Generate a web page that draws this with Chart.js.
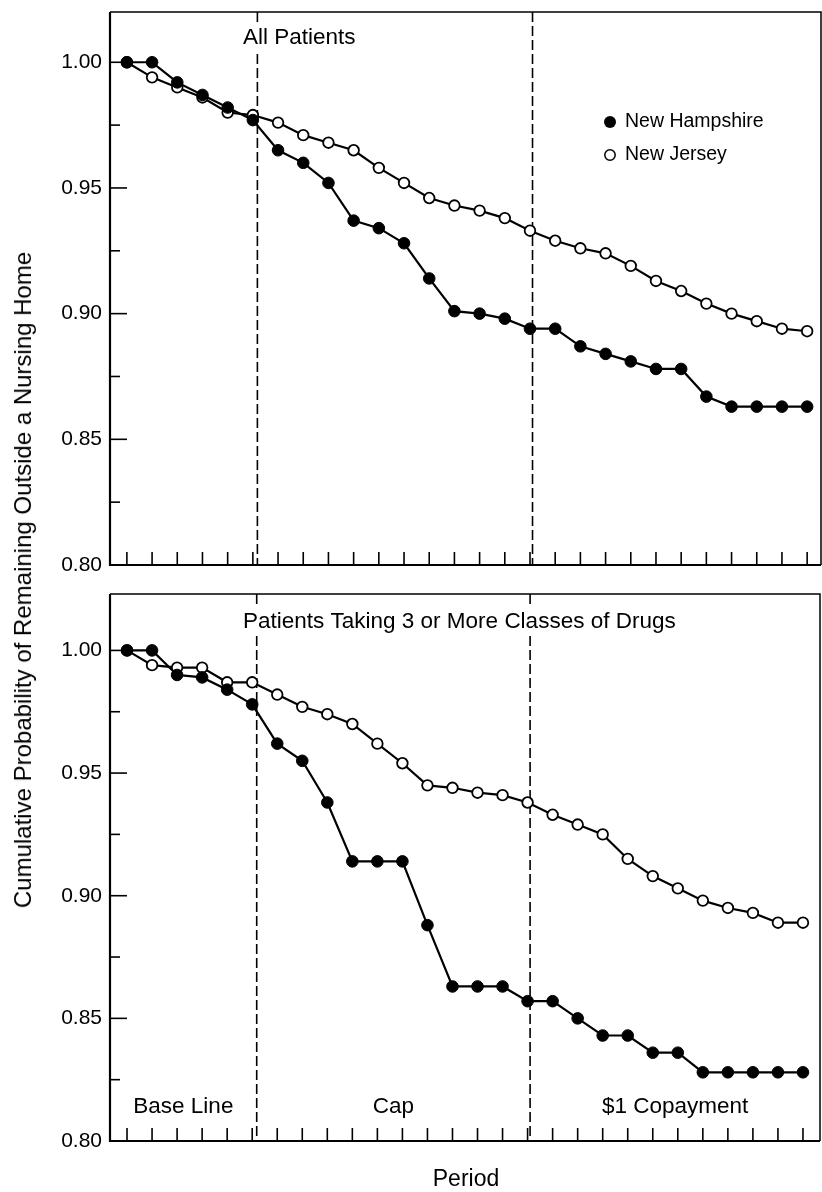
<!DOCTYPE html>
<html>
<head>
<meta charset="utf-8">
<script src="https://cdn.jsdelivr.net/npm/chart.js"></script>
<style>
  html,body{margin:0;padding:0;background:#fff;}
  body{width:822px;height:1192px;position:relative;overflow:hidden;font-family:"Liberation Sans",Arial,sans-serif;color:#000;}
  canvas{position:absolute;left:0;}
  #top{top:0;}
  #bot{top:580px;}
  .lab{position:absolute;white-space:nowrap;line-height:1;}
  #ylab{left:23px;top:580px;font-size:24px;transform:translate(-50%,-50%) rotate(-90deg);}
  #xlab{left:466px;top:1178px;font-size:23px;transform:translate(-50%,-50%);}
</style>
</head>
<body>
<canvas id="top" width="822" height="580"></canvas>
<canvas id="bot" width="822" height="612"></canvas>
<div class="lab" id="ylab">Cumulative Probability of Remaining Outside a Nursing Home</div>
<div class="lab" id="xlab">Period</div>
<script>
// x positions of the 28 observations
const periods = [0,1,2,3,4,5,6,7,8,9,10,11,12,13,14,15,16,17,18,19,20,21,22,23,24,25,26,27];
// where the policy periods change (dashed lines)
const phaseBreaks = [5.18, 16.1];
const phaseNames = ['Base Line', 'Cap', '$1 Copayment'];

const allNH = [1.000,1.000,0.992,0.987,0.982,0.977,0.965,0.960,0.952,0.937,0.934,0.928,0.914,0.901,
               0.900,0.898,0.894,0.894,0.887,0.884,0.881,0.878,0.878,0.867,0.863,0.863,0.863,0.863];
const allNJ = [1.000,0.994,0.990,0.986,0.980,0.979,0.976,0.971,0.968,0.965,0.958,0.952,0.946,0.943,
               0.941,0.938,0.933,0.929,0.926,0.924,0.919,0.913,0.909,0.904,0.900,0.897,0.894,0.893];
const drugNH = [1.000,1.000,0.990,0.989,0.984,0.978,0.962,0.955,0.938,0.914,0.914,0.914,0.888,0.863,
                0.863,0.863,0.857,0.857,0.850,0.843,0.843,0.836,0.836,0.828,0.828,0.828,0.828,0.828];
const drugNJ = [1.000,0.994,0.993,0.993,0.987,0.987,0.982,0.977,0.974,0.970,0.962,0.954,0.945,0.944,
                0.942,0.941,0.938,0.933,0.929,0.925,0.915,0.908,0.903,0.898,0.895,0.893,0.889,0.889];

const yTicks = [0.80,0.825,0.85,0.875,0.90,0.925,0.95,0.975,1.00];
const yTickLabels = ['0.80','','0.85','','0.90','','0.95','','1.00'];
const seriesNames = ['New Hampshire','New Jersey'];

const FONT = '"Liberation Sans", Arial, sans-serif';
Chart.defaults.font.family = FONT;
Chart.defaults.color = '#000';

// frame, inner ticks, dashed lines, titles and legend
const framePlugin = {
  id: 'frame',
  beforeDatasetsDraw(chart) {
    const {ctx, chartArea: a, scales: {x, y}} = chart;
    ctx.save();
    ctx.strokeStyle = '#000';
    ctx.lineWidth = 1.6;
    ctx.setLineDash([10, 4]);
    phaseBreaks.forEach(v => {
      const px = x.getPixelForValue(v);
      ctx.beginPath(); ctx.moveTo(px, a.top); ctx.lineTo(px, a.bottom); ctx.stroke();
    });
    ctx.setLineDash([]);
    periods.forEach(v => {
      const px = x.getPixelForValue(v);
      ctx.beginPath(); ctx.moveTo(px, a.bottom); ctx.lineTo(px, a.bottom - 13); ctx.stroke();
    });
    yTicks.forEach((v, i) => {
      const py = y.getPixelForValue(v);
      const len = yTickLabels[i] ? 17 : 10;
      ctx.beginPath(); ctx.moveTo(a.left, py); ctx.lineTo(a.left + len, py); ctx.stroke();
    });
    ctx.lineWidth = 2.2;
    ctx.beginPath(); ctx.moveTo(a.left, a.top); ctx.lineTo(a.left, a.bottom); ctx.lineTo(a.right, a.bottom); ctx.stroke();
    ctx.lineWidth = 1.5;
    ctx.beginPath(); ctx.moveTo(a.left, a.top); ctx.lineTo(a.right, a.top); ctx.lineTo(a.right, a.bottom); ctx.stroke();
    ctx.restore();
  },
  afterDatasetsDraw(chart, args, o) {
    const {ctx, chartArea: a, scales: {x}} = chart;
    ctx.save();
    ctx.fillStyle = '#000';
    ctx.textBaseline = 'middle';
    // panel title on a white patch (hides the dashed line)
    ctx.font = '22.5px ' + FONT;
    const tx = a.left + 133, ty = a.top + o.titleDy;
    const w = ctx.measureText(o.title).width;
    ctx.fillStyle = '#fff';
    ctx.fillRect(tx - 3, ty - 14, w + 6, 28);
    ctx.fillStyle = '#000';
    ctx.textAlign = 'left';
    ctx.fillText(o.title, tx, ty);

    if (o.legend) {
      ctx.font = '19.5px ' + FONT;
      const lx = a.left + 500, ly = a.top + 110;
      ctx.beginPath(); ctx.arc(lx, ly, 6, 0, Math.PI * 2); ctx.fill();
      ctx.fillText(seriesNames[0], lx + 15, ly);
      ctx.beginPath(); ctx.arc(lx, ly + 33, 5.2, 0, Math.PI * 2);
      ctx.fillStyle = '#fff'; ctx.fill();
      ctx.lineWidth = 1.5; ctx.strokeStyle = '#000'; ctx.stroke();
      ctx.fillStyle = '#000';
      ctx.fillText(seriesNames[1], lx + 15, ly + 33);
    }
    if (o.phases) {
      ctx.font = '22.5px ' + FONT;
      ctx.textAlign = 'center';
      const edges = [a.left, ...phaseBreaks.map(v => x.getPixelForValue(v)), a.right];
      phaseNames.forEach((n, i) => {
        ctx.fillText(n, (edges[i] + edges[i + 1]) / 2, a.bottom - 34);
      });
    }
    ctx.restore();
  }
};

function makeChart(id, nh, nj, opt) {
  const pts = arr => arr.map((v, i) => ({x: periods[i], y: v}));
  return new Chart(document.getElementById(id), {
    type: 'line',
    data: {
      datasets: [
        {label: seriesNames[0], data: pts(nh), borderColor: '#000', borderWidth: 2.2,
         pointRadius: 5.8, pointBorderWidth: 1, pointBackgroundColor: '#000', pointBorderColor: '#000', tension: 0},
        {label: seriesNames[1], data: pts(nj), borderColor: '#000', borderWidth: 2.2,
         pointRadius: 5.3, pointBorderWidth: 1.8, pointBackgroundColor: '#fff', pointBorderColor: '#000', tension: 0}
      ]
    },
    options: {
      responsive: false,
      animation: false,
      events: [],
      layout: {padding: opt.padding, autoPadding: false},
      plugins: {legend: {display: false}, tooltip: {enabled: false}, frame: opt.frame},
      scales: {
        x: {type: 'linear', min: opt.xmin, max: opt.xmax, display: false, ticks: {display: false}},
        y: {
          type: 'linear', min: 0.80, max: opt.ymax,
          afterBuildTicks: s => { s.ticks = yTicks.map(v => ({value: v})); },
          afterFit: s => { s.width = 110; s.paddingTop = 0; s.paddingBottom = 0; },
          grid: {display: false, drawTicks: false},
          border: {display: false},
          ticks: {autoSkip: false, padding: 8, font: {size: 21}, color: '#000',
                  callback: (v, i) => yTickLabels[i]}
        }
      }
    },
    plugins: [framePlugin]
  });
}

makeChart('top', allNH, allNJ, {
  padding: {top: 12, right: 1, bottom: 15, left: 0},
  xmin: -0.67, xmax: 27.55, ymax: 1.020,
  frame: {title: 'All Patients', titleDy: 26, legend: true, phases: false}
});
makeChart('bot', drugNH, drugNJ, {
  padding: {top: 14, right: 2, bottom: 51, left: 0},
  xmin: -0.68, xmax: 27.68, ymax: 1.023,
  frame: {title: 'Patients Taking 3 or More Classes of Drugs', titleDy: 28, legend: false, phases: true}
});
</script>
</body>
</html>
